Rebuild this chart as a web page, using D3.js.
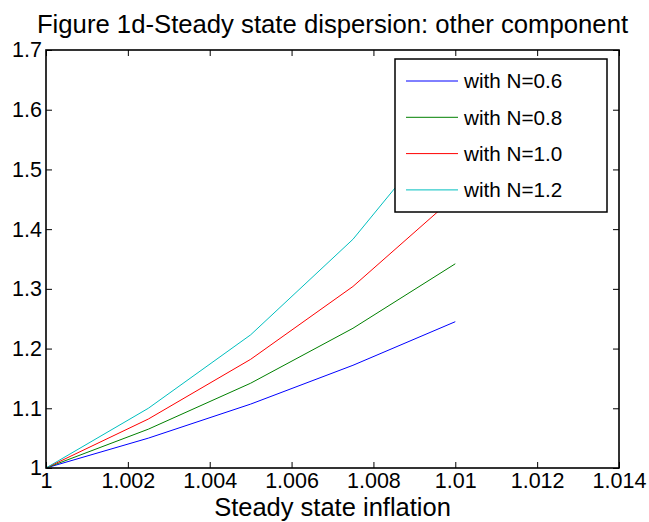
<!DOCTYPE html>
<html>
<head>
    <title>Figure 1d-Steady state dispersion: other component</title>
    <script src="https://d3js.org/d3.v7.min.js"></script>
    <style>
        body { margin: 0; background: white; }
        svg { display: block; font-family: "Liberation Sans", Arial, sans-serif; }
    </style>
</head>
<body>
    <svg width="649" height="522"></svg>

    <script>
        // Steady state inflation (x) and dispersion values per N
        const inflation = [1, 1.0025, 1.005, 1.0075, 1.01];
        const seriesNames = ["with N=0.6", "with N=0.8", "with N=1.0", "with N=1.2"];
        const n06 = [1, 1.050, 1.107, 1.172, 1.245];
        const n08 = [1, 1.065, 1.142, 1.234, 1.342];
        const n10 = [1, 1.082, 1.182, 1.304, 1.455];
        const n12 = [1, 1.100, 1.223, 1.383, 1.592];
        const seriesColors = ["#0000ff", "#008000", "#ff0000", "#00bfbf"];
        const xTicks = [1, 1.002, 1.004, 1.006, 1.008, 1.01, 1.012, 1.014];
        const yTicks = [1, 1.1, 1.2, 1.3, 1.4, 1.5, 1.6, 1.7];

        const allSeries = [n06, n08, n10, n12];

        const svg = d3.select("svg");
        const margin = { top: 50, right: 30, bottom: 54, left: 46 };
        const width = +svg.attr("width") - margin.left - margin.right;
        const height = +svg.attr("height") - margin.top - margin.bottom;
        const chart = svg.append("g")
            .attr("transform", `translate(${margin.left},${margin.top})`);

        const x = d3.scaleLinear().domain([1, 1.014]).range([0, width]);
        const y = d3.scaleLinear().domain([1, 1.7]).range([height, 0]);

        const tickLen = 6;
        const fmt = d => String(+d.toFixed(3));

        // bottom axis with labels, ticks pointing inward
        const xAxis = chart.append("g")
            .attr("transform", `translate(0,${height})`)
            .call(d3.axisBottom(x).tickValues(xTicks).tickFormat(fmt)
                .tickSizeInner(-tickLen).tickSizeOuter(0).tickPadding(5));
        // left axis
        const yAxis = chart.append("g")
            .call(d3.axisLeft(y).tickValues(yTicks).tickFormat(fmt)
                .tickSizeInner(-tickLen).tickSizeOuter(0).tickPadding(4));
        // top and right mirrored ticks
        const xTop = chart.append("g")
            .call(d3.axisTop(x).tickValues(xTicks).tickFormat("")
                .tickSizeInner(-tickLen).tickSizeOuter(0));
        const yRight = chart.append("g")
            .attr("transform", `translate(${width},0)`)
            .call(d3.axisRight(y).tickValues(yTicks).tickFormat("")
                .tickSizeInner(-tickLen).tickSizeOuter(0));

        [xAxis, yAxis, xTop, yRight].forEach(g => {
            g.select(".domain").remove();
            g.selectAll("line").attr("stroke", "#000").attr("stroke-width", 1);
            g.selectAll("text").attr("fill", "#000").attr("font-size", 21.5)
                .attr("font-family", "Liberation Sans, Arial, sans-serif");
        });

        // data lines
        const line = d3.line()
            .x((d, i) => x(inflation[i]))
            .y(d => y(d));

        chart.selectAll(".series")
            .data(allSeries)
            .enter().append("path")
            .attr("class", "series")
            .attr("fill", "none")
            .attr("stroke", (d, i) => seriesColors[i])
            .attr("stroke-width", 1)
            .attr("d", line);

        // axes box
        chart.append("rect")
            .attr("width", width)
            .attr("height", height)
            .attr("fill", "none")
            .attr("stroke", "#000")
            .attr("stroke-width", 1.6);

        // legend
        const legend = chart.append("g")
            .attr("transform", `translate(${395 - margin.left},${59 - margin.top})`);
        legend.append("rect")
            .attr("width", 212)
            .attr("height", 153)
            .attr("fill", "#fff")
            .attr("stroke", "#000")
            .attr("stroke-width", 1.5);
        seriesNames.forEach((name, i) => {
            const ly = 22 + i * 36.3;
            legend.append("line")
                .attr("x1", 11).attr("x2", 63)
                .attr("y1", ly).attr("y2", ly)
                .attr("stroke", seriesColors[i])
                .attr("stroke-width", 1);
            legend.append("text")
                .attr("x", 69)
                .attr("y", ly)
                .attr("dy", "0.35em")
                .attr("font-size", 20.7)
                .text(name);
        });

        // title and x label
        svg.append("text")
            .attr("x", margin.left + width / 2)
            .attr("y", 33)
            .attr("text-anchor", "middle")
            .attr("font-size", 25.7)
            .text("Figure 1d-Steady state dispersion: other component");

        svg.append("text")
            .attr("x", margin.left + width / 2)
            .attr("y", 516)
            .attr("text-anchor", "middle")
            .attr("font-size", 25.5)
            .text("Steady state inflation");
    </script>
</body>
</html>
